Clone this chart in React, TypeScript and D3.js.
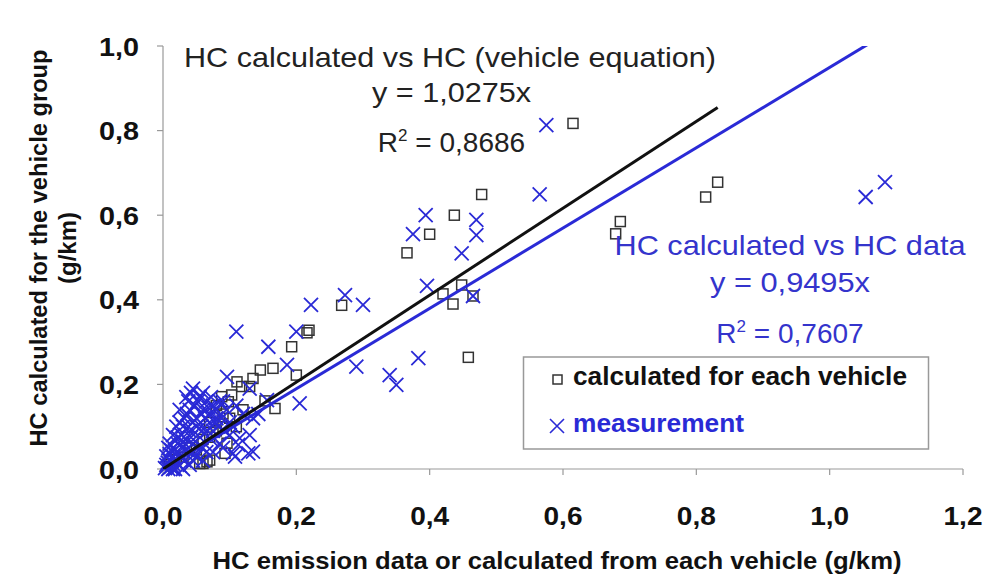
import React from 'react';
import * as d3 from 'd3';

const xTicks = [0, 0.2, 0.4, 0.6, 0.8, 1.0, 1.2];
const yTicks = [0, 0.2, 0.4, 0.6, 0.8, 1.0];

const slopeCalculated = 1.0275;
const slopeMeasurement = 0.9495;

// calculated for each vehicle (squares)
const calculated: [number, number][] = [
  [0.615, 0.817], [0.832, 0.678], [0.814, 0.643], [0.686, 0.585], [0.679, 0.556],
  [0.478, 0.649], [0.437, 0.6], [0.4, 0.555], [0.366, 0.511], [0.42, 0.414],
  [0.448, 0.435], [0.435, 0.39], [0.465, 0.409], [0.458, 0.264], [0.268, 0.387],
  [0.219, 0.328], [0.216, 0.322], [0.193, 0.289], [0.2, 0.222], [0.146, 0.234],
  [0.165, 0.238], [0.135, 0.214], [0.13, 0.195], [0.118, 0.195], [0.111, 0.206],
  [0.103, 0.175], [0.088, 0.171], [0.098, 0.159], [0.153, 0.161], [0.168, 0.143],
  [0.096, 0.061], [0.093, 0.037], [0.055, 0.013], [0.066, 0.017], [0.07, 0.021],
  [0.06, 0.013], [0.01, 0.01], [0.02, 0.022], [0.03, 0.028], [0.04, 0.05],
  [0.05, 0.045], [0.06, 0.07], [0.07, 0.075], [0.08, 0.09], [0.09, 0.1],
  [0.08, 0.15], [0.09, 0.13], [0.07, 0.11], [0.1, 0.12], [0.11, 0.1], [0.12, 0.14],
];

// measurement (crosses)
const measurement: [number, number][] = [
  [1.083, 0.678], [1.054, 0.643], [0.575, 0.813], [0.565, 0.649], [0.47, 0.589],
  [0.47, 0.553], [0.448, 0.51], [0.394, 0.6], [0.375, 0.555], [0.396, 0.433],
  [0.465, 0.409], [0.383, 0.262], [0.34, 0.222], [0.35, 0.199], [0.29, 0.242],
  [0.273, 0.411], [0.3, 0.388], [0.222, 0.388], [0.2, 0.325], [0.11, 0.325],
  [0.158, 0.289], [0.186, 0.246], [0.096, 0.218], [0.13, 0.19], [0.156, 0.163],
  [0.205, 0.155], [0.12, 0.13], [0.143, 0.13], [0.135, 0.12], [0.115, 0.073],
  [0.13, 0.08], [0.105, 0.037], [0.135, 0.041], [0.128, 0.037], [0.108, 0.029],
  [0.113, 0.057], [0.005, 0.01], [0.01, 0.02], [0.012, 0.005], [0.015, 0.03],
  [0.018, 0.045], [0.02, 0.015], [0.022, 0.06], [0.025, 0.035], [0.028, 0.08],
  [0.03, 0.05], [0.03, 0.1], [0.032, 0.02], [0.035, 0.07], [0.036, 0.13],
  [0.038, 0.16], [0.04, 0.04], [0.04, 0.09], [0.042, 0.18], [0.045, 0.11],
  [0.045, 0.06], [0.048, 0.15], [0.05, 0.03], [0.05, 0.12], [0.052, 0.08],
  [0.055, 0.17], [0.057, 0.1], [0.06, 0.14], [0.06, 0.05], [0.063, 0.12],
  [0.065, 0.16], [0.067, 0.09], [0.07, 0.13], [0.072, 0.07], [0.075, 0.15],
  [0.078, 0.11], [0.08, 0.14], [0.083, 0.1], [0.085, 0.06], [0.088, 0.12],
  [0.09, 0.16], [0.092, 0.09], [0.095, 0.14], [0.1, 0.11], [0.02, 0.1],
  [0.025, 0.14], [0.015, 0.08], [0.008, 0.05], [0.01, 0.035], [0.003, 0.002],
  [0.007, 0.015], [0.018, 0.0], [0.03, 0.0], [0.04, 0.01], [0.06, 0.02],
  [0.075, 0.04], [0.09, 0.05], [0.1, 0.08], [0.105, 0.1], [0.11, 0.15],
  [0.005, 0.03], [0.01, 0.06], [0.012, 0.045], [0.015, 0.012], [0.02, 0.04],
  [0.022, 0.075], [0.025, 0.11], [0.028, 0.025], [0.03, 0.065], [0.032, 0.12],
  [0.035, 0.045], [0.035, 0.17], [0.038, 0.1], [0.04, 0.14], [0.042, 0.075],
  [0.045, 0.19], [0.047, 0.035], [0.05, 0.1], [0.052, 0.16], [0.055, 0.055],
  [0.058, 0.13], [0.06, 0.18], [0.062, 0.085], [0.065, 0.04], [0.068, 0.145],
  [0.07, 0.11], [0.072, 0.17], [0.075, 0.09], [0.08, 0.12], [0.085, 0.16],
  [0.008, 0.0], [0.015, 0.0], [0.025, 0.008], [0.045, 0.02],
];

const FONT = '"Liberation Sans", Arial, Helvetica, sans-serif';
const BLUE = '#2a2ad6';
const BLUE_TEXT = '#3434cc';

export default function App() {
  const x = d3.scaleLinear().domain([0, 1.2]).range([163, 963]);
  const y = d3.scaleLinear().domain([0, 1]).range([469, 46]);
  const fmt = (v: number) => d3.format('.1f')(v).replace('.', ',');
  const maxCalc = d3.max(calculated, (d) => d[0]) as number;
  const maxMeas = d3.max(measurement, (d) => d[0]) as number;
  const line = d3
    .line<[number, number]>()
    .x((d) => x(d[0]))
    .y((d) => y(d[1]));
  const calcLine: [number, number][] = [[0, 0], [maxCalc, slopeCalculated * maxCalc]];
  const measLine: [number, number][] = [[0, 0], [maxMeas, slopeMeasurement * maxMeas]];
  const [x0, x1] = x.range();
  const [y0, y1] = y.range();
  const sq = 5;
  const cr = 7;

  return (
    <svg
      width={984}
      height={586}
      style={{ position: 'absolute', left: 0, top: 0, background: '#fff' }}
      fontFamily={FONT}
    >
      <defs>
        <clipPath id="plot">
          <rect x={x0} y={y1} width={x1 - x0 + 20} height={y0 - y1} />
        </clipPath>
      </defs>
      <rect x={0} y={0} width={984} height={586} fill="#fff" />

      {/* axes */}
      <line x1={x0} x2={x0} y1={y1} y2={y0} stroke="#999" strokeWidth={1.2} />
      <line x1={x0} x2={x1} y1={y0} y2={y0} stroke="#999" strokeWidth={1.2} />
      {yTicks.map((t) => (
        <g key={'yt' + t}>
          <line x1={x0 - 6} x2={x0} y1={y(t)} y2={y(t)} stroke="#999" strokeWidth={1.2} />
          <text
            x={139}
            y={y(t) + 9.5}
            textAnchor="end"
            fontWeight="bold"
            fontSize={26}
            textLength={40}
            lengthAdjust="spacingAndGlyphs"
            fill="#111"
          >
            {fmt(t)}
          </text>
        </g>
      ))}
      {xTicks.map((t) => (
        <g key={'xt' + t}>
          <line x1={x(t)} x2={x(t)} y1={y0} y2={y0 + 6} stroke="#999" strokeWidth={1.2} />
          <text
            x={x(t)}
            y={525}
            textAnchor="middle"
            fontWeight="bold"
            fontSize={25}
            textLength={39}
            lengthAdjust="spacingAndGlyphs"
            fill="#111"
          >
            {fmt(t)}
          </text>
        </g>
      ))}

      {/* axis titles */}
      <text
        x={557}
        y={569}
        textAnchor="middle"
        fontWeight="bold"
        fontSize={24}
        textLength={689}
        lengthAdjust="spacingAndGlyphs"
        fill="#111"
      >
        HC emission data or calculated from each vehicle (g/km)
      </text>
      <g transform="translate(47,248) rotate(-90)">
        <text
          x={0}
          y={0}
          textAnchor="middle"
          fontWeight="bold"
          fontSize={24}
          textLength={397}
          lengthAdjust="spacingAndGlyphs"
          fill="#111"
        >
          HC calculated for the vehicle group
        </text>
      </g>
      <g transform="translate(76,248) rotate(-90)">
        <text x={0} y={0} textAnchor="middle" fontWeight="bold" fontSize={24} fill="#111">
          (g/km)
        </text>
      </g>

      {/* squares */}
      {calculated.map((d, i) => (
        <rect
          key={'c' + i}
          x={x(d[0]) - sq}
          y={y(d[1]) - sq}
          width={sq * 2}
          height={sq * 2}
          fill="none"
          stroke="#333"
          strokeWidth={1.5}
        />
      ))}
      {/* crosses */}
      {measurement.map((d, i) => (
        <path
          key={'m' + i}
          d={`M${x(d[0]) - cr},${y(d[1]) - cr}L${x(d[0]) + cr},${y(d[1]) + cr}M${x(d[0]) - cr},${y(d[1]) + cr}L${x(d[0]) + cr},${y(d[1]) - cr}`}
          stroke={BLUE}
          strokeWidth={1.8}
          fill="none"
        />
      ))}

      {/* trendlines */}
      <g clipPath="url(#plot)">
        <path d={line(measLine) || ''} stroke={BLUE} strokeWidth={3} fill="none" />
        <path d={line(calcLine) || ''} stroke="#111" strokeWidth={3} fill="none" />
      </g>

      {/* annotations */}
      <g fill="#222" fontSize={28}>
        <text x={450} y={67} textAnchor="middle" textLength={532} lengthAdjust="spacingAndGlyphs">
          HC calculated vs HC (vehicle equation)
        </text>
        <text x={451.5} y={102} textAnchor="middle" textLength={159} lengthAdjust="spacingAndGlyphs">
          y = 1,0275x
        </text>
        <text x={451.5} y={152} textAnchor="middle">
          R<tspan dy={-11} fontSize={17}>2</tspan>
          <tspan dy={11}> = 0,8686</tspan>
        </text>
      </g>
      <g fill={BLUE_TEXT} fontSize={28}>
        <text x={790} y={255} textAnchor="middle" textLength={351} lengthAdjust="spacingAndGlyphs">
          HC calculated vs HC data
        </text>
        <text x={790} y={292} textAnchor="middle" textLength={160} lengthAdjust="spacingAndGlyphs">
          y = 0,9495x
        </text>
        <text x={790} y={343} textAnchor="middle">
          R<tspan dy={-11} fontSize={17}>2</tspan>
          <tspan dy={11}> = 0,7607</tspan>
        </text>
      </g>

      {/* legend */}
      <rect x={523.5} y={357} width={405} height={92} fill="#fff" stroke="#999" strokeWidth={1.5} />
      <rect x={553} y={375} width={9} height={9} fill="none" stroke="#333" strokeWidth={1.5} />
      <text
        x={573}
        y={385}
        fontWeight="bold"
        fontSize={25}
        textLength={334}
        lengthAdjust="spacingAndGlyphs"
        fill="#111"
      >
        calculated for each vehicle
      </text>
      <path
        d={`M${550},${419}L${564},${433}M${550},${433}L${564},${419}`}
        stroke={BLUE}
        strokeWidth={1.6}
      />
      <text
        x={573}
        y={432}
        fontWeight="bold"
        fontSize={25}
        textLength={171}
        lengthAdjust="spacingAndGlyphs"
        fill={BLUE}
      >
        measurement
      </text>
    </svg>
  );
}
